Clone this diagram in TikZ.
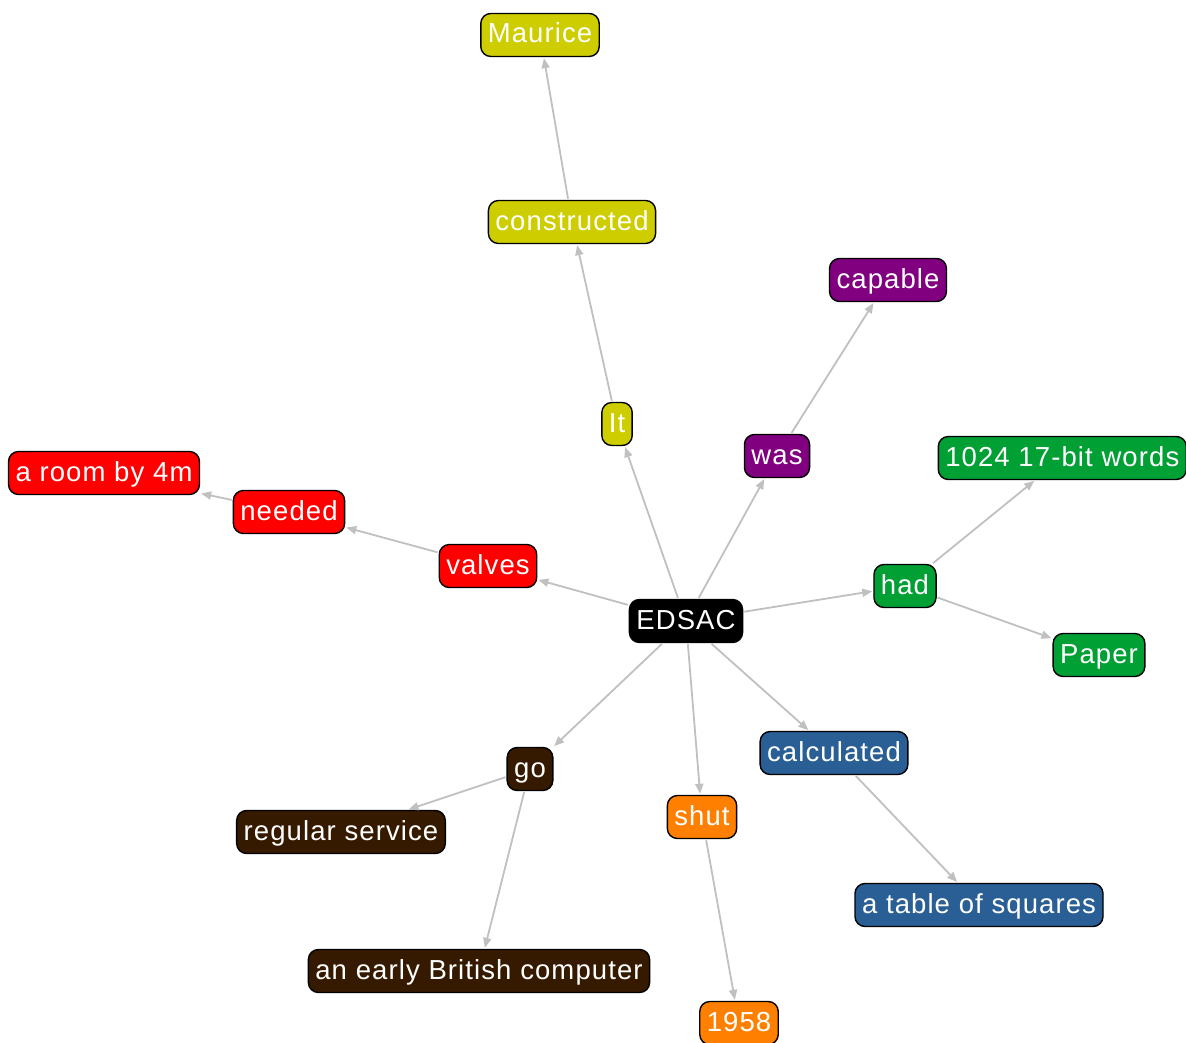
\documentclass[tikz,border=0pt]{standalone}
\usepackage{fontspec}
\setmainfont{Liberation Sans}
\newfontfamily\lblfont[LetterSpace=4]{Liberation Sans}
\usetikzlibrary{arrows.meta}

\definecolor{cyellow}{RGB}{205,205,0}
\definecolor{cpurple}{RGB}{128,0,128}
\definecolor{cred}{RGB}{255,0,0}
\definecolor{cgreen}{RGB}{0,160,52}
\definecolor{cblue}{RGB}{42,95,150}
\definecolor{corange}{RGB}{255,128,0}
\definecolor{cbrown}{RGB}{54,26,0}
\definecolor{cedge}{RGB}{192,192,192}

\tikzset{
  word/.style={draw=black, line width=1.4pt, rounded corners=10pt,
    text=white, font=\lblfont\fontsize{27.5}{30}\selectfont,
    minimum height=43pt, inner xsep=7pt, inner ysep=0pt,
    text height=21pt, text depth=5pt},
  link/.style={draw=cedge, line width=1.8pt,
    -{Triangle[length=10pt,width=8pt]}, shorten >=1pt, shorten <=1pt},
}

\begin{document}
\begin{tikzpicture}[x=1pt,y=-1pt]
\useasboundingbox (0,0) rectangle (1186,1043);

% central node
\node[word, fill=black] (edsac) at (686,621) {EDSAC};

% yellow branch
\node[word, fill=cyellow] (it) at (617,424) {It};
\node[word, fill=cyellow] (constructed) at (572,222) {constructed};
\node[word, fill=cyellow] (maurice) at (540,35) {Maurice};

% purple branch
\node[word, fill=cpurple] (was) at (777,456) {was};
\node[word, fill=cpurple] (capable) at (888,280) {capable};

% red branch
\node[word, fill=cred] (valves) at (488,566) {valves};
\node[word, fill=cred] (needed) at (289,512) {needed};
\node[word, fill=cred] (room) at (104,473) {a room by 4m};

% green branch
\node[word, fill=cgreen] (had) at (905,586) {had};
\node[word, fill=cgreen, anchor=east] (words) at (1187,458) {1024 17-bit words};
\node[word, fill=cgreen] (paper) at (1099,655) {Paper};

% blue branch
\node[word, fill=cblue] (calculated) at (834,753) {calculated};
\node[word, fill=cblue] (squares) at (979,905) {a table of squares};

% orange branch
\node[word, fill=corange] (shut) at (702,817) {shut};
\node[word, fill=corange] (year) at (739,1023) {1958};

% brown branch
\node[word, fill=cbrown] (go) at (530,769) {go};
\node[word, fill=cbrown] (service) at (341,832) {regular service};
\node[word, fill=cbrown] (british) at (479,971) {an early British computer};

% connectors
\draw[link] (edsac) -- (it);
\draw[link] (it) -- (constructed);
\draw[link] (constructed) -- (maurice);
\draw[link] (edsac) -- (was);
\draw[link] (was) -- (capable);
\draw[link] (edsac) -- (valves);
\draw[link] (valves) -- (needed);
\draw[link] (needed) -- (room);
\draw[link] (edsac) -- (had);
\draw[link] (had) -- (words);
\draw[link] (had) -- (paper);
\draw[link] (edsac) -- (calculated);
\draw[link] (calculated) -- (squares);
\draw[link] (edsac) -- (shut);
\draw[link] (shut) -- (year);
\draw[link] (edsac) -- (go);
\draw[link] (go) -- (service);
\draw[link] (go) -- (british);
\end{tikzpicture}
\end{document}
